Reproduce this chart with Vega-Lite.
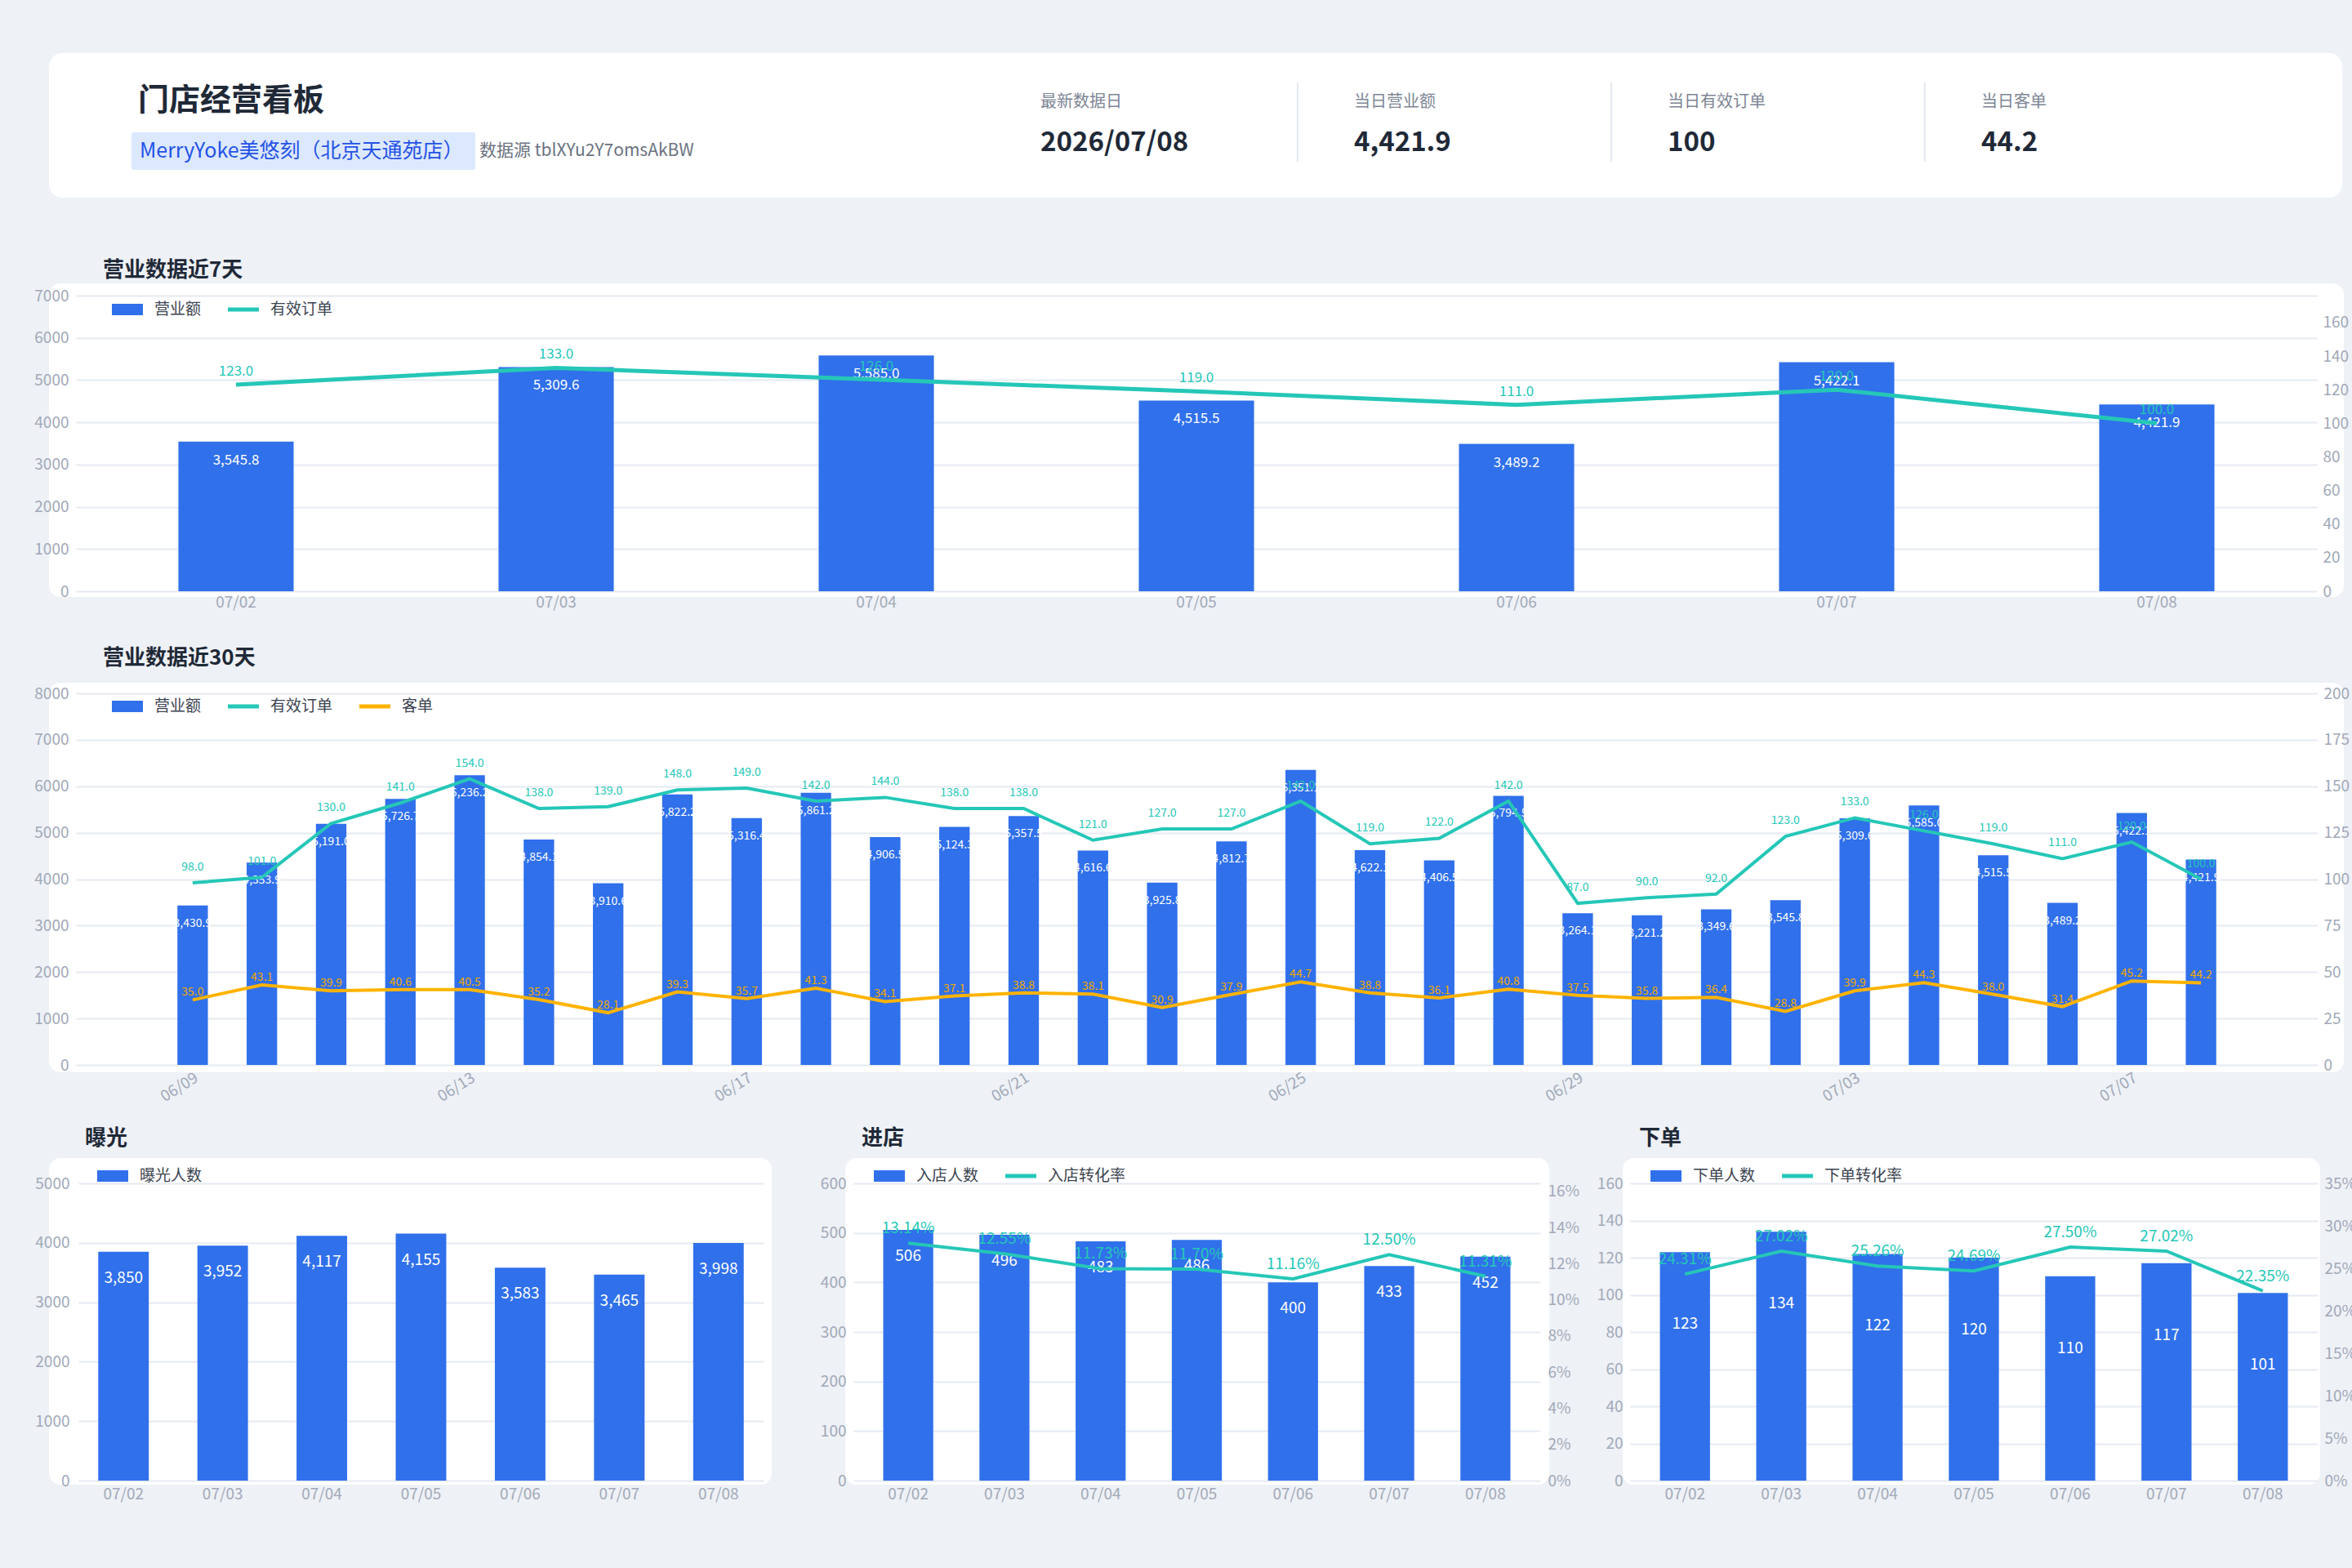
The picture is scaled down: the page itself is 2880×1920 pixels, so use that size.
{
  "$schema": "https://vega.github.io/schema/vega-lite/v6.json",
  "background": "#EEF1F6",
  "padding": {"left": 41, "top": 65, "right": 10, "bottom": 100},
  "bounds": "flush",
  "spacing": 105,
  "resolve": {"scale": {"color": "independent"}, "legend": {"color": "independent"}},
  "datasets": {
    "d7": [
      {"日期": "07/02", "营业额": 3545.8, "有效订单": 123},
      {"日期": "07/03", "营业额": 5309.6, "有效订单": 133},
      {"日期": "07/04", "营业额": 5585.0, "有效订单": 126},
      {"日期": "07/05", "营业额": 4515.5, "有效订单": 119},
      {"日期": "07/06", "营业额": 3489.2, "有效订单": 111},
      {"日期": "07/07", "营业额": 5422.1, "有效订单": 120},
      {"日期": "07/08", "营业额": 4421.9, "有效订单": 100}
    ],
    "d30": [
      {"日期": "06/09", "营业额": 3430.9, "有效订单": 98, "客单": 35.0},
      {"日期": "06/10", "营业额": 4353.9, "有效订单": 101, "客单": 43.1},
      {"日期": "06/11", "营业额": 5191.0, "有效订单": 130, "客单": 39.9},
      {"日期": "06/12", "营业额": 5726.7, "有效订单": 141, "客单": 40.6},
      {"日期": "06/13", "营业额": 6236.2, "有效订单": 154, "客单": 40.5},
      {"日期": "06/14", "营业额": 4854.1, "有效订单": 138, "客单": 35.2},
      {"日期": "06/15", "营业额": 3910.6, "有效订单": 139, "客单": 28.1},
      {"日期": "06/16", "营业额": 5822.2, "有效订单": 148, "客单": 39.3},
      {"日期": "06/17", "营业额": 5316.4, "有效订单": 149, "客单": 35.7},
      {"日期": "06/18", "营业额": 5861.2, "有效订单": 142, "客单": 41.3},
      {"日期": "06/19", "营业额": 4906.5, "有效订单": 144, "客单": 34.1},
      {"日期": "06/20", "营业额": 5124.3, "有效订单": 138, "客单": 37.1},
      {"日期": "06/21", "营业额": 5357.5, "有效订单": 138, "客单": 38.8},
      {"日期": "06/22", "营业额": 4616.6, "有效订单": 121, "客单": 38.1},
      {"日期": "06/23", "营业额": 3925.8, "有效订单": 127, "客单": 30.9},
      {"日期": "06/24", "营业额": 4812.7, "有效订单": 127, "客单": 37.9},
      {"日期": "06/25", "营业额": 6351.1, "有效订单": 142, "客单": 44.7},
      {"日期": "06/26", "营业额": 4622.1, "有效订单": 119, "客单": 38.8},
      {"日期": "06/27", "营业额": 4406.5, "有效订单": 122, "客单": 36.1},
      {"日期": "06/28", "营业额": 5794.5, "有效订单": 142, "客单": 40.8},
      {"日期": "06/29", "营业额": 3264.1, "有效订单": 87, "客单": 37.5},
      {"日期": "06/30", "营业额": 3221.2, "有效订单": 90, "客单": 35.8},
      {"日期": "07/01", "营业额": 3349.6, "有效订单": 92, "客单": 36.4},
      {"日期": "07/02", "营业额": 3545.8, "有效订单": 123, "客单": 28.8},
      {"日期": "07/03", "营业额": 5309.6, "有效订单": 133, "客单": 39.9},
      {"日期": "07/04", "营业额": 5585.0, "有效订单": 126, "客单": 44.3},
      {"日期": "07/05", "营业额": 4515.5, "有效订单": 119, "客单": 38.0},
      {"日期": "07/06", "营业额": 3489.2, "有效订单": 111, "客单": 31.4},
      {"日期": "07/07", "营业额": 5422.1, "有效订单": 120, "客单": 45.2},
      {"日期": "07/08", "营业额": 4421.9, "有效订单": 100, "客单": 44.2}
    ],
    "funnel": [
      {"日期": "07/02", "曝光人数": 3850, "入店人数": 506, "入店转化率": 0.1314, "下单人数": 123, "下单转化率": 0.2431},
      {"日期": "07/03", "曝光人数": 3952, "入店人数": 496, "入店转化率": 0.1255, "下单人数": 134, "下单转化率": 0.2702},
      {"日期": "07/04", "曝光人数": 4117, "入店人数": 483, "入店转化率": 0.1173, "下单人数": 122, "下单转化率": 0.2526},
      {"日期": "07/05", "曝光人数": 4155, "入店人数": 486, "入店转化率": 0.1170, "下单人数": 120, "下单转化率": 0.2469},
      {"日期": "07/06", "曝光人数": 3583, "入店人数": 400, "入店转化率": 0.1116, "下单人数": 110, "下单转化率": 0.2750},
      {"日期": "07/07", "曝光人数": 3465, "入店人数": 433, "入店转化率": 0.1250, "下单人数": 117, "下单转化率": 0.2702},
      {"日期": "07/08", "曝光人数": 3998, "入店人数": 452, "入店转化率": 0.1131, "下单人数": 101, "下单转化率": 0.2235}
    ],
    "kpi": [
      {"指标": "最新数据日", "数值": "2026/07/08"},
      {"指标": "当日营业额", "数值": "4,421.9"},
      {"指标": "当日有效订单", "数值": "100"},
      {"指标": "当日客单", "数值": "44.2"}
    ],
    "store": [
      {"店铺": "MerryYoke美悠刻（北京天通苑店）", "标题": "门店经营看板", "数据源": "数据源 tblXYu2Y7omsAkBW"}
    ]
  },
  "vconcat": [
    {
      "width": 2808,
      "height": 177,
      "view": {"fill": "#FFFFFF", "stroke": null, "cornerRadius": 16},
      "layer": [
        {
          "data": {"name": "store"},
          "layer": [
            {
              "mark": {"type": "rect", "color": "#DCE8FE", "cornerRadius": 3},
              "encoding": {
                "x": {"datum": "门店", "type": "nominal", "scale": {"type": "band", "domain": ["门店"], "range": [101, 522], "paddingInner": 0, "paddingOuter": 0}, "axis": null},
                "y": {"datum": "门店", "type": "nominal", "scale": {"type": "band", "domain": ["标题", "门店"], "range": [32, 143], "paddingInner": 0.29, "paddingOuter": 0}, "axis": null}
              }
            },
            {
              "mark": {"type": "text", "align": "left", "baseline": "middle", "dx": 8, "dy": 4, "fontSize": 38, "fontWeight": "bold", "color": "#1F2937"},
              "encoding": {
                "x": {"datum": "门店", "type": "nominal", "bandPosition": 0},
                "y": {"datum": "标题", "type": "nominal"},
                "text": {"field": "标题"}
              }
            },
            {
              "mark": {"type": "text", "align": "left", "baseline": "middle", "dx": 10, "fontSize": 25, "color": "#2453E6"},
              "encoding": {
                "x": {"datum": "门店", "type": "nominal", "bandPosition": 0},
                "y": {"datum": "门店", "type": "nominal"},
                "text": {"field": "店铺"}
              }
            },
            {
              "mark": {"type": "text", "align": "left", "baseline": "middle", "dx": 5, "fontSize": 21, "color": "#6B7280"},
              "encoding": {
                "x": {"datum": "门店", "type": "nominal", "bandPosition": 1},
                "y": {"datum": "门店", "type": "nominal"},
                "text": {"field": "数据源"}
              }
            }
          ]
        },
        {
          "data": {"name": "kpi"},
          "layer": [
            {
              "mark": {"type": "text", "align": "left", "baseline": "middle", "fontSize": 20, "color": "#7D8594"},
              "encoding": {
                "x": {"field": "指标", "type": "nominal", "sort": null, "bandPosition": 0, "scale": {"type": "band", "domain": ["最新数据日", "当日营业额", "当日有效订单", "当日客单"], "range": [1214, 2750], "paddingInner": 0, "paddingOuter": 0}, "axis": null},
                "y": {"datum": "标签", "type": "nominal", "scale": {"type": "band", "domain": ["标签", "数值"], "range": [36, 133], "paddingInner": 0, "paddingOuter": 0}, "axis": null},
                "text": {"field": "指标"}
              }
            },
            {
              "mark": {"type": "text", "align": "left", "baseline": "middle", "dy": 1, "fontSize": 33, "fontWeight": "bold", "color": "#1F2937"},
              "encoding": {
                "x": {"field": "指标", "type": "nominal", "sort": null, "bandPosition": 0},
                "y": {"datum": "数值", "type": "nominal"},
                "text": {"field": "数值"}
              }
            },
            {
              "transform": [{"filter": "datum['指标'] !== '当日客单'"}],
              "mark": {"type": "rule", "color": "#E3E8EF", "strokeWidth": 2},
              "encoding": {
                "x": {"field": "指标", "type": "nominal", "sort": null, "bandPosition": 0.82},
                "y": {"datum": "标签", "type": "nominal", "bandPosition": 0},
                "y2": {"datum": "数值", "bandPosition": 1}
              }
            }
          ]
        }
      ],
      "resolve": {"scale": {"x": "independent", "y": "independent"}}
    },
    {
      "width": 2810,
      "height": 384,
      "view": {"fill": "#FFFFFF", "stroke": null, "cornerRadius": 14},
      "title": {"text": "营业数据近7天", "dx": 66, "offset": 3},
      "data": {"name": "d7"},
      "encoding": {
        "x": {"field": "日期", "type": "ordinal", "sort": null, "scale": {"range": [33, 2777], "paddingInner": 0.64, "paddingOuter": 0.32}, "axis": {"labelAngle": 0, "labelPadding": 4, "offset": -7}}
      },
      "layer": [
        {
          "encoding": {
            "y": {"field": "营业额", "type": "quantitative", "scale": {"domain": [0, 7000], "nice": false, "range": [377, 15]}, "axis": {"values": [0, 1000, 2000, 3000, 4000, 5000, 6000, 7000], "format": "d", "grid": true, "labelPadding": 9, "offset": -33}}
          },
          "layer": [
            {
              "mark": {"type": "bar"},
              "encoding": {
                "color": {"datum": "营业额", "scale": {"domain": ["营业额", "有效订单"], "range": ["#3070EB", "#25C7B7"]},
                  "legend": {"orient": "none", "legendX": 77, "legendY": 13, "direction": "horizontal",
                    "encode": {"symbols": {"update": {"shape": {"signal": "indexof(['营业额','曝光人数','入店人数','下单人数'], datum.value) >= 0 ? 'M-1,-0.37L1,-0.37L1,0.37L-1,0.37Z' : 'M-1,-0.13L1,-0.13L1,0.13L-1,0.13Z'"}}}}}}
              }
            },
            {
              "mark": {"type": "text", "baseline": "middle", "dy": 23, "fontSize": 17, "color": "#FFFFFF"},
              "encoding": {"text": {"field": "营业额", "type": "quantitative", "format": ",.1f"}}
            }
          ]
        },
        {
          "encoding": {
            "y": {"field": "有效订单", "type": "quantitative", "scale": {"domain": [0, 176], "nice": false, "range": [377, 15]}, "axis": {"orient": "right", "values": [0, 20, 40, 60, 80, 100, 120, 140, 160], "grid": false, "labelPadding": 7, "offset": -33}}
          },
          "layer": [
            {
              "mark": {"type": "line", "strokeWidth": 5},
              "encoding": {"color": {"datum": "有效订单", "legend": null}}
            },
            {
              "mark": {"type": "text", "baseline": "middle", "dy": -16, "fontSize": 17, "color": "#25C7B7"},
              "encoding": {"text": {"field": "有效订单", "type": "quantitative", "format": ".1f"}}
            }
          ]
        }
      ],
      "resolve": {"scale": {"y": "independent"}}
    },
    {
      "width": 2810,
      "height": 477,
      "view": {"fill": "#FFFFFF", "stroke": null, "cornerRadius": 14},
      "title": {"text": "营业数据近30天", "dx": 66, "offset": 17},
      "data": {"name": "d30"},
      "encoding": {
        "x": {"field": "日期", "type": "ordinal", "sort": null,
          "scale": {"domain": ["起", "06/09", "06/10", "06/11", "06/12", "06/13", "06/14", "06/15", "06/16", "06/17", "06/18", "06/19", "06/20", "06/21", "06/22", "06/23", "06/24", "06/25", "06/26", "06/27", "06/28", "06/29", "06/30", "07/01", "07/02", "07/03", "07/04", "07/05", "07/06", "07/07", "07/08", "止"], "range": [33, 2778], "paddingInner": 0.56, "paddingOuter": 0.465},
          "axis": {"labelAngle": -32, "labelPadding": 6, "offset": -9, "values": ["06/09", "06/13", "06/17", "06/21", "06/25", "06/29", "07/03", "07/07"]}}
      },
      "layer": [
        {
          "encoding": {
            "y": {"field": "营业额", "type": "quantitative", "scale": {"domain": [0, 8000], "nice": false, "range": [468, 13]}, "axis": {"values": [0, 1000, 2000, 3000, 4000, 5000, 6000, 7000, 8000], "format": "d", "grid": true, "labelPadding": 9, "offset": -33}}
          },
          "layer": [
            {
              "mark": {"type": "bar"},
              "encoding": {
                "color": {"datum": "营业额", "scale": {"domain": ["营业额", "有效订单", "客单"], "range": ["#3070EB", "#25C7B7", "#FFB300"]},
                  "legend": {"orient": "none", "legendX": 77, "legendY": 10, "direction": "horizontal",
                    "encode": {"symbols": {"update": {"shape": {"signal": "indexof(['营业额','曝光人数','入店人数','下单人数'], datum.value) >= 0 ? 'M-1,-0.37L1,-0.37L1,0.37L-1,0.37Z' : 'M-1,-0.13L1,-0.13L1,0.13L-1,0.13Z'"}}}}}}
              }
            },
            {
              "mark": {"type": "text", "baseline": "middle", "dy": 22, "fontSize": 14, "color": "#FFFFFF"},
              "encoding": {"text": {"field": "营业额", "type": "quantitative", "format": ",.1f"}}
            }
          ]
        },
        {
          "layer": [
            {
              "encoding": {
                "y": {"field": "有效订单", "type": "quantitative", "scale": {"domain": [0, 200], "nice": false, "range": [468, 13]}, "axis": {"orient": "right", "values": [0, 25, 50, 75, 100, 125, 150, 175, 200], "grid": false, "labelPadding": 7, "offset": -32}}
              },
              "layer": [
                {
                  "mark": {"type": "line", "strokeWidth": 4},
                  "encoding": {"color": {"datum": "有效订单", "legend": null}}
                },
                {
                  "mark": {"type": "text", "baseline": "middle", "dy": -19, "fontSize": 14, "color": "#25C7B7"},
                  "encoding": {"text": {"field": "有效订单", "type": "quantitative", "format": ".1f"}}
                }
              ]
            },
            {
              "encoding": {
                "y": {"field": "客单", "type": "quantitative", "scale": {"domain": [0, 200], "nice": false, "range": [468, 13]}, "axis": {"orient": "right", "values": [0, 25, 50, 75, 100, 125, 150, 175, 200], "grid": false, "labelPadding": 7, "offset": -32}}
              },
              "layer": [
                {
                  "mark": {"type": "line", "strokeWidth": 4},
                  "encoding": {"color": {"datum": "客单", "legend": null}}
                },
                {
                  "mark": {"type": "text", "baseline": "middle", "dy": -9, "fontSize": 14, "color": "#F2A900"},
                  "encoding": {"text": {"field": "客单", "type": "quantitative", "format": ".1f"}}
                }
              ]
            }
          ]
        }
      ],
      "resolve": {"scale": {"y": "independent"}}
    },
    {
      "bounds": "flush",
      "spacing": 90,
      "resolve": {"scale": {"color": "independent"}, "legend": {"color": "independent"}},
      "hconcat": [
        {
          "width": 885,
          "height": 400,
          "view": {"fill": "#FFFFFF", "stroke": null, "cornerRadius": 14},
          "title": {"text": "曝光", "dx": 44, "offset": 11},
          "data": {"name": "funnel"},
          "encoding": {
            "x": {"field": "日期", "type": "ordinal", "sort": null, "scale": {"range": [36, 875], "paddingInner": 0.49, "paddingOuter": 0.2}, "axis": {"labelAngle": 0, "labelPadding": 7, "offset": -5}},
            "y": {"field": "曝光人数", "type": "quantitative", "scale": {"domain": [0, 5000], "nice": false, "range": [395, 31]}, "axis": {"values": [0, 1000, 2000, 3000, 4000, 5000], "format": "d", "grid": true, "labelPadding": 11, "offset": -36}}
          },
          "layer": [
            {
              "mark": {"type": "bar"},
              "encoding": {
                "color": {"datum": "曝光人数", "scale": {"domain": ["曝光人数"], "range": ["#3070EB"]},
                  "legend": {"orient": "none", "legendX": 59, "legendY": 3, "direction": "horizontal",
                    "encode": {"symbols": {"update": {"shape": {"signal": "indexof(['营业额','曝光人数','入店人数','下单人数'], datum.value) >= 0 ? 'M-1,-0.37L1,-0.37L1,0.37L-1,0.37Z' : 'M-1,-0.13L1,-0.13L1,0.13L-1,0.13Z'"}}}}}}
              }
            },
            {
              "mark": {"type": "text", "baseline": "middle", "dy": 32, "fontSize": 19, "color": "#FFFFFF"},
              "encoding": {"text": {"field": "曝光人数", "type": "quantitative", "format": ","}}
            }
          ]
        },
        {
          "width": 862,
          "height": 400,
          "view": {"fill": "#FFFFFF", "stroke": null, "cornerRadius": 14},
          "title": {"text": "进店", "dx": 20, "offset": 11},
          "data": {"name": "funnel"},
          "encoding": {
            "x": {"field": "日期", "type": "ordinal", "sort": null, "scale": {"range": [10, 851], "paddingInner": 0.48, "paddingOuter": 0.31}, "axis": {"labelAngle": 0, "labelPadding": 7, "offset": -5}}
          },
          "layer": [
            {
              "encoding": {
                "y": {"field": "入店人数", "type": "quantitative", "scale": {"domain": [0, 600], "nice": false, "range": [395, 31]}, "axis": {"values": [0, 100, 200, 300, 400, 500, 600], "format": "d", "grid": true, "labelPadding": 9, "offset": -10}}
              },
              "layer": [
                {
                  "mark": {"type": "bar"},
                  "encoding": {
                    "color": {"datum": "入店人数", "scale": {"domain": ["入店人数", "入店转化率"], "range": ["#3070EB", "#25C7B7"]},
                      "legend": {"orient": "none", "legendX": 35, "legendY": 3, "direction": "horizontal",
                        "encode": {"symbols": {"update": {"shape": {"signal": "indexof(['营业额','曝光人数','入店人数','下单人数'], datum.value) >= 0 ? 'M-1,-0.37L1,-0.37L1,0.37L-1,0.37Z' : 'M-1,-0.13L1,-0.13L1,0.13L-1,0.13Z'"}}}}}}
                  }
                },
                {
                  "mark": {"type": "text", "baseline": "middle", "dy": 32, "fontSize": 19, "color": "#FFFFFF"},
                  "encoding": {"text": {"field": "入店人数", "type": "quantitative", "format": ","}}
                }
              ]
            },
            {
              "encoding": {
                "y": {"field": "入店转化率", "type": "quantitative", "scale": {"domain": [0, 0.1645], "nice": false, "range": [395, 31]}, "axis": {"orient": "right", "values": [0, 0.02, 0.04, 0.06, 0.08, 0.1, 0.12, 0.14, 0.16], "format": ".0%", "grid": false, "labelPadding": 9, "offset": -11}}
              },
              "layer": [
                {
                  "mark": {"type": "line", "strokeWidth": 4},
                  "encoding": {"color": {"datum": "入店转化率", "legend": null}}
                },
                {
                  "mark": {"type": "text", "baseline": "middle", "dy": -18, "fontSize": 19, "color": "#25C7B7"},
                  "encoding": {"text": {"field": "入店转化率", "type": "quantitative", "format": ".2%"}}
                }
              ]
            }
          ],
          "resolve": {"scale": {"y": "independent"}}
        },
        {
          "width": 854,
          "height": 400,
          "view": {"fill": "#FFFFFF", "stroke": null, "cornerRadius": 14},
          "title": {"text": "下单", "dx": 20, "offset": 11},
          "data": {"name": "funnel"},
          "encoding": {
            "x": {"field": "日期", "type": "ordinal", "sort": null, "scale": {"range": [9, 851], "paddingInner": 0.48, "paddingOuter": 0.31}, "axis": {"labelAngle": 0, "labelPadding": 7, "offset": -5}}
          },
          "layer": [
            {
              "encoding": {
                "y": {"field": "下单人数", "type": "quantitative", "scale": {"domain": [0, 160], "nice": false, "range": [395, 31]}, "axis": {"values": [0, 20, 40, 60, 80, 100, 120, 140, 160], "format": "d", "grid": true, "labelPadding": 9, "offset": -9}}
              },
              "layer": [
                {
                  "mark": {"type": "bar"},
                  "encoding": {
                    "color": {"datum": "下单人数", "scale": {"domain": ["下单人数", "下单转化率"], "range": ["#3070EB", "#25C7B7"]},
                      "legend": {"orient": "none", "legendX": 34, "legendY": 3, "direction": "horizontal",
                        "encode": {"symbols": {"update": {"shape": {"signal": "indexof(['营业额','曝光人数','入店人数','下单人数'], datum.value) >= 0 ? 'M-1,-0.37L1,-0.37L1,0.37L-1,0.37Z' : 'M-1,-0.13L1,-0.13L1,0.13L-1,0.13Z'"}}}}}}
                  }
                },
                {
                  "mark": {"type": "text", "baseline": "middle", "dy": 88, "fontSize": 19, "color": "#FFFFFF"},
                  "encoding": {"text": {"field": "下单人数", "type": "quantitative", "format": ","}}
                }
              ]
            },
            {
              "encoding": {
                "y": {"field": "下单转化率", "type": "quantitative", "scale": {"domain": [0, 0.35], "nice": false, "range": [395, 31]}, "axis": {"orient": "right", "values": [0, 0.05, 0.1, 0.15, 0.2, 0.25, 0.3, 0.35], "format": ".0%", "grid": false, "labelPadding": 8, "offset": -3}}
              },
              "layer": [
                {
                  "mark": {"type": "line", "strokeWidth": 4},
                  "encoding": {"color": {"datum": "下单转化率", "legend": null}}
                },
                {
                  "mark": {"type": "text", "baseline": "middle", "dy": -18, "fontSize": 19, "color": "#25C7B7"},
                  "encoding": {"text": {"field": "下单转化率", "type": "quantitative", "format": ".2%"}}
                }
              ]
            }
          ],
          "resolve": {"scale": {"y": "independent"}}
        }
      ]
    }
  ],
  "config": {
    "font": "Noto Sans CJK SC",
    "view": {"stroke": null},
    "axis": {"domain": false, "ticks": false, "title": null, "labelFont": "Noto Sans CJK SC", "labelFontSize": 19, "labelColor": "#A1A9B8", "gridColor": "#E5EAF2", "gridWidth": 2},
    "axisX": {"grid": false},
    "legend": {"padding": 0, "symbolSize": 1444, "labelFont": "Noto Sans CJK SC", "labelFontSize": 19, "labelColor": "#3B4350", "labelOffset": 14, "columnPadding": 32, "title": null, "symbolStrokeWidth": 0},
    "title": {"anchor": "start", "frame": "group", "font": "Noto Sans CJK SC", "fontSize": 26, "fontWeight": "bold", "color": "#1F2937"},
    "text": {"font": "Noto Sans CJK SC"}
  }
}
